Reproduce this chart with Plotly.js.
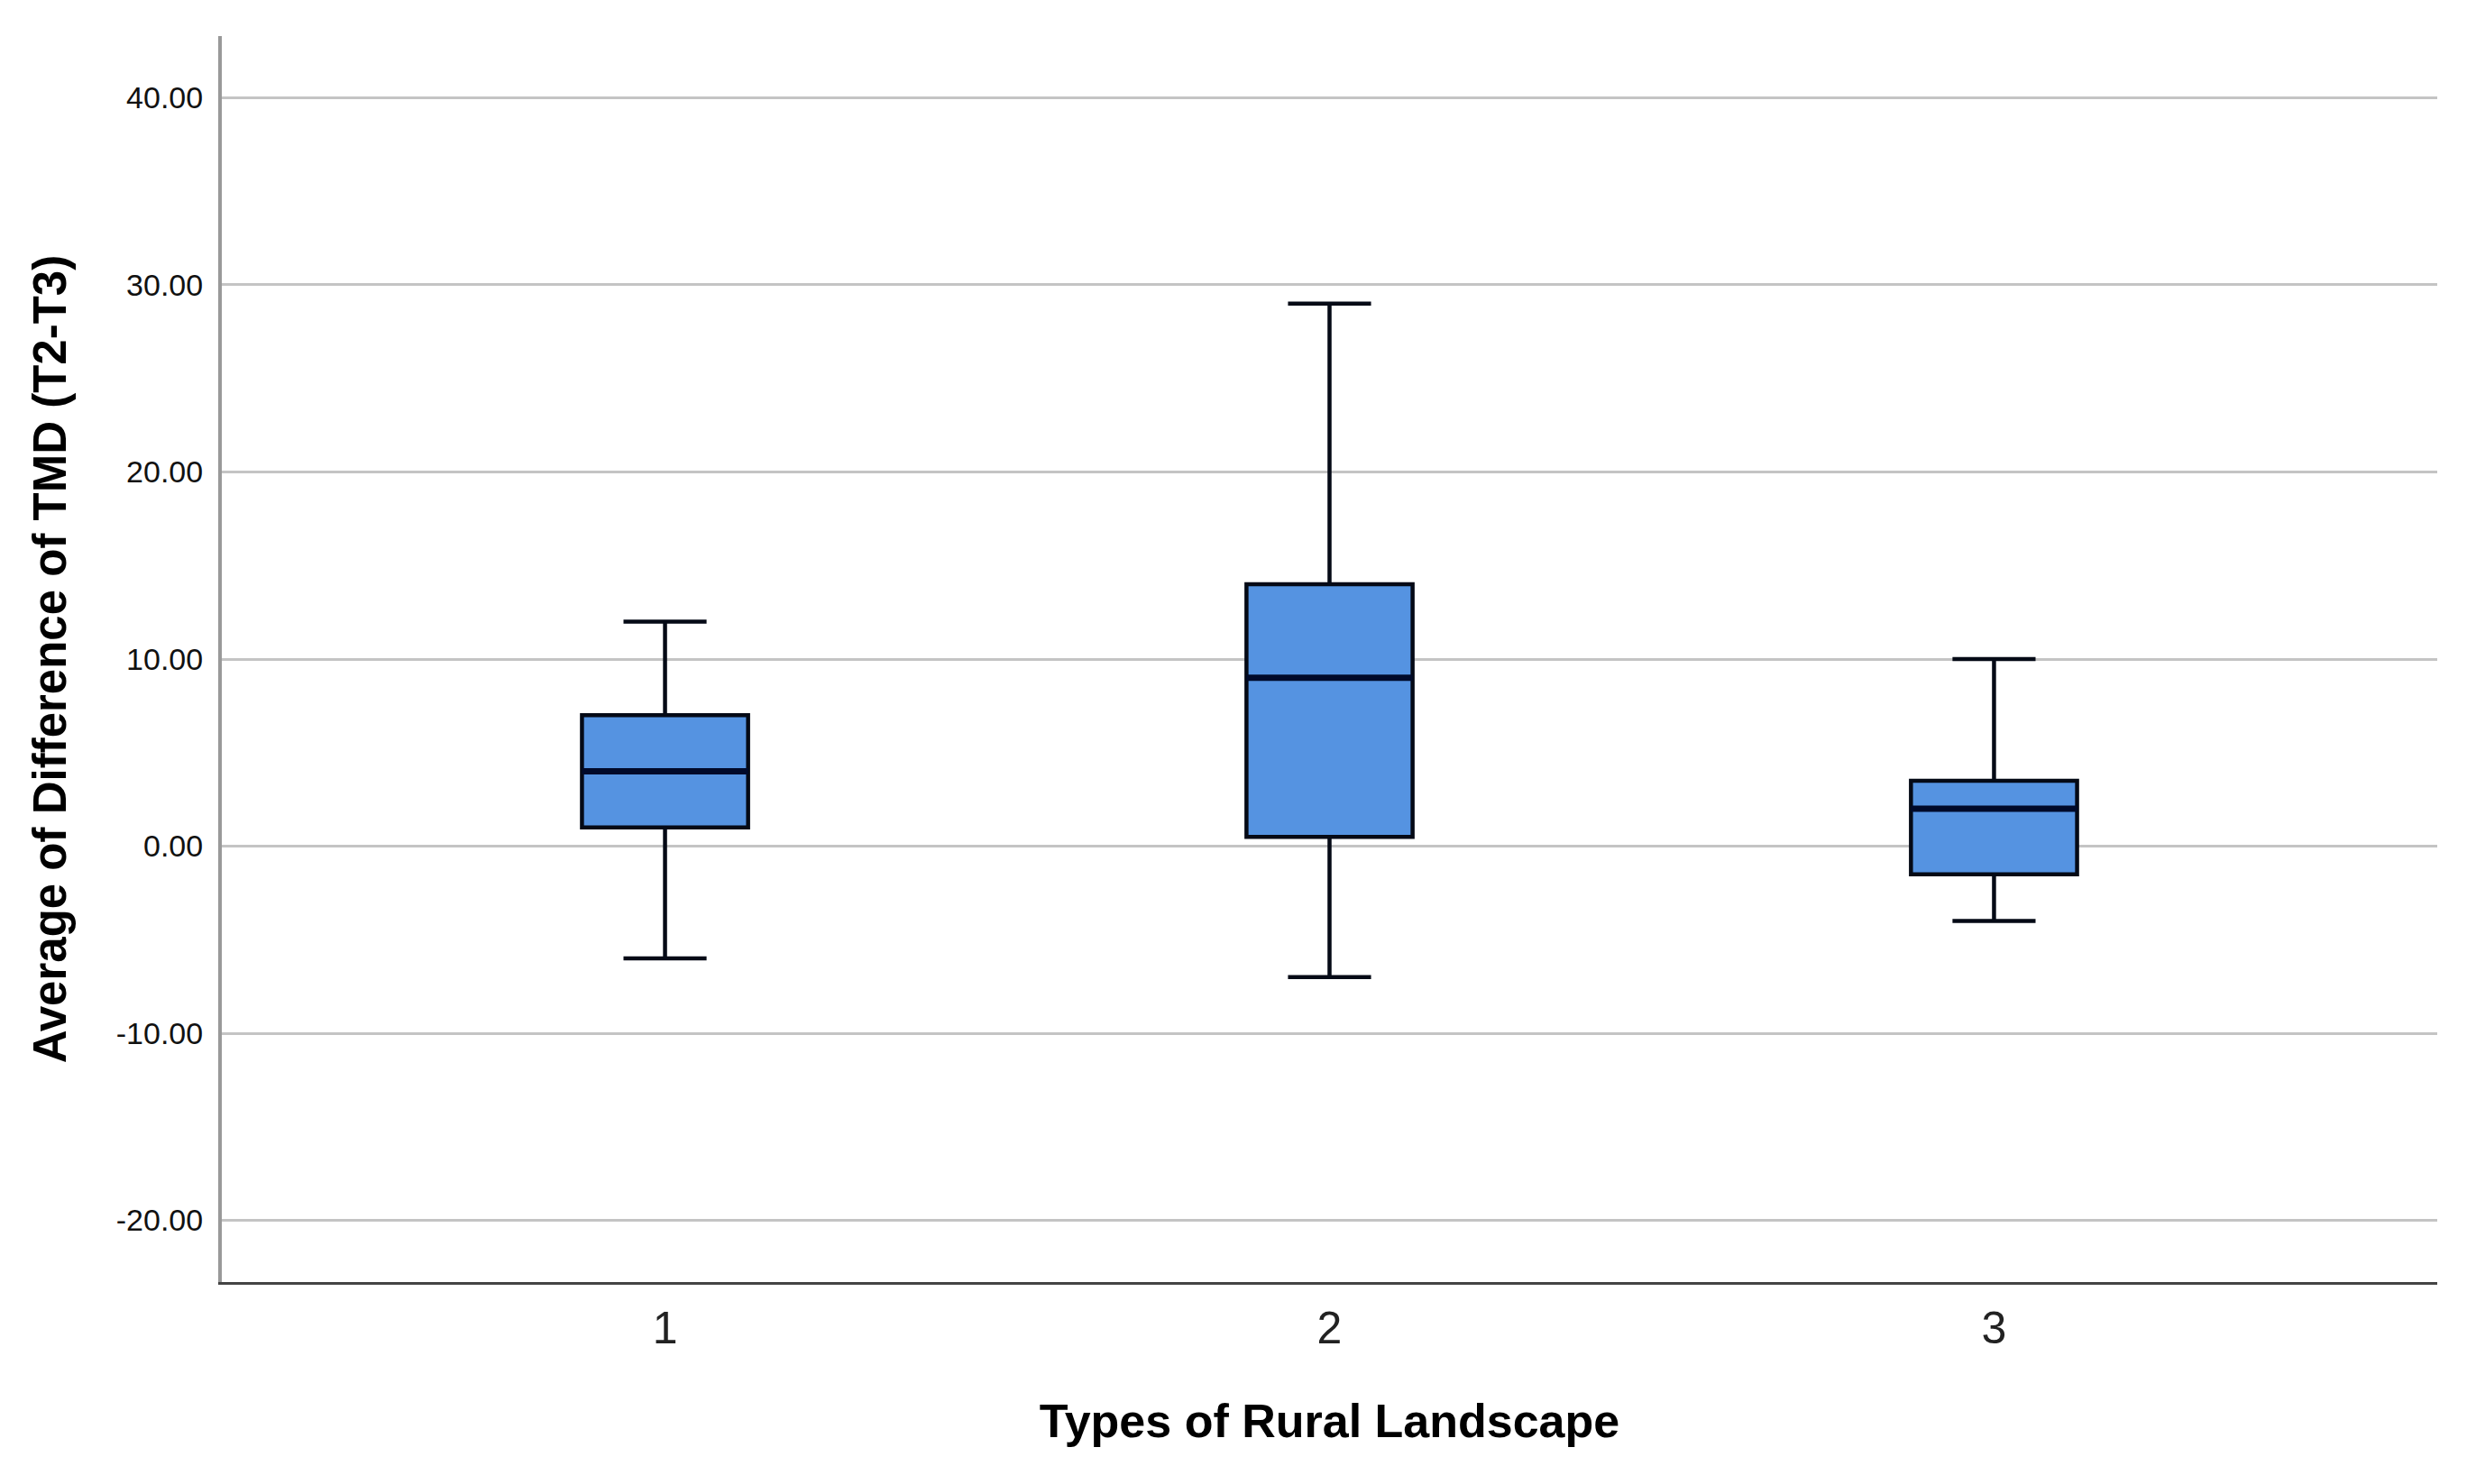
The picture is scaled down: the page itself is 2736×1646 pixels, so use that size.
<!DOCTYPE html>
<html>
<head>
<meta charset="utf-8">
<script src="https://cdn.plot.ly/plotly-3.0.1.min.js"></script>
<style>html,body{margin:0;padding:0;background:#fff;}#chart{width:2736px;height:1646px;}</style>
</head>
<body>
<div id="chart"></div>
<script>
const categories = [1, 2, 3];
const tickLabels = ["1", "2", "3"];
const yTickValues = [-20, -10, 0, 10, 20, 30, 40];
const yTickLabels = ["-20.00", "-10.00", "0.00", "10.00", "20.00", "30.00", "40.00"];
const lowerWhisker = [-6, -7, -4];
const q1Values = [1, 0.5, -1.5];
const medianValues = [4, 9, 2];
const q3Values = [7, 14, 3.5];
const upperWhisker = [12, 29, 10];

const boxWidth = 0.25;

const boxTrace = {
  type: 'box',
  x: categories,
  q1: q1Values,
  median: medianValues,
  q3: q3Values,
  lowerfence: lowerWhisker,
  upperfence: upperWhisker,
  width: boxWidth,
  whiskerwidth: 0.5,
  fillcolor: '#5593E1',
  line: {color: '#050a16', width: 4.5},
  boxpoints: false,
  hoverinfo: 'skip',
  showlegend: false
};

// thicker median lines drawn from the median data
const medX = [], medY = [];
categories.forEach((c, i) => {
  medX.push(c - boxWidth / 2, c + boxWidth / 2, null);
  medY.push(medianValues[i], medianValues[i], null);
});
const medianTrace = {
  type: 'scatter', mode: 'lines', x: medX, y: medY,
  line: {color: '#000a2a', width: 7}, hoverinfo: 'skip', showlegend: false
};

const layout = {
  width: 2736, height: 1646,
  margin: {l: 246, r: 33, t: 40, b: 224},
  paper_bgcolor: '#fff', plot_bgcolor: '#fff',
  font: {family: 'Liberation Sans, Arial, sans-serif', color: '#111'},
  xaxis: {
    range: [0.333, 3.667],
    tickvals: categories, ticktext: tickLabels,
    tickfont: {size: 50, color: '#222'},
    showgrid: false, zeroline: false,
    showline: true, linecolor: '#444', linewidth: 3,
    ticks: '', ticklabelstandoff: 5,
    title: {text: 'Types of Rural Landscape', font: {size: 52, color: '#000', family: 'Liberation Sans, Arial, sans-serif', weight: 'bold'}, standoff: 58}
  },
  yaxis: {
    range: [-23.3, 43.3],
    tickvals: yTickValues, ticktext: yTickLabels,
    tickfont: {size: 34, color: '#111'},
    showgrid: true, gridcolor: '#c4c4c4', gridwidth: 3,
    zeroline: false,
    showline: true, linecolor: '#999', linewidth: 4,
    ticks: '', ticklabelstandoff: 10,
    title: {text: 'Average of Difference of TMD (T2-T3)', font: {size: 51, color: '#000', family: 'Liberation Sans, Arial, sans-serif', weight: 'bold'}, standoff: 40}
  }
};

Plotly.newPlot('chart', [boxTrace, medianTrace], layout, {displayModeBar: false, staticPlot: true});
</script>
</body>
</html>
